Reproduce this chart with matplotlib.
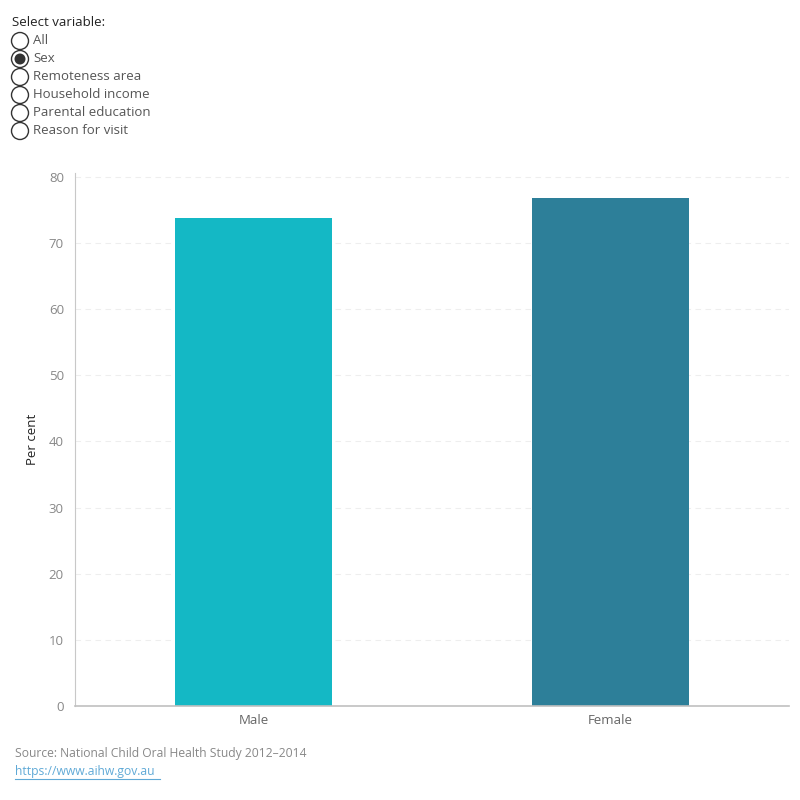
import matplotlib
matplotlib.use('Agg')
import matplotlib.pyplot as plt
from matplotlib.patches import Circle

plt.rcParams['font.family'] = ['Open Sans', 'DejaVu Sans']

# Data
categories = ['Male', 'Female']
values = [73.8, 76.8]
colors = ['#14b8c5', '#2d7f99']
options = ['All', 'Sex', 'Remoteness area', 'Household income',
           'Parental education', 'Reason for visit']
selected = 'Sex'
yticks = [0, 10, 20, 30, 40, 50, 60, 70, 80]

fig = plt.figure(figsize=(8, 8), dpi=100)
ax = fig.add_axes([75 / 800, 1 - 706 / 800, (789 - 75) / 800, (706 - 173) / 800])

ax.bar(categories, values, color=colors, width=0.44)
ax.set_xlim(-0.5, 1.5)
ax.set_ylim(0, 80.6)
ax.set_yticks(yticks)
ax.tick_params(axis='y', length=0, colors='#888888', labelsize=9.5, pad=8)
ax.tick_params(axis='x', length=0, colors='#666666', labelsize=9.5, pad=6)
ax.grid(axis='y', color='#eeeeee', linestyle=(0, (5, 4)), linewidth=0.8)
ax.set_axisbelow(True)
for s in ['top', 'right']:
    ax.spines[s].set_visible(False)
ax.spines['left'].set_color('#c8c8c8')
ax.spines['bottom'].set_color('#c0c0c0')
ax.spines['bottom'].set_linewidth(1.2)
ax.set_ylabel('Per cent', color='#222222', fontsize=9.5, labelpad=7)

# Radio button panel
fig.text(12 / 800, 1 - 23 / 800, 'Select variable:', fontsize=9.5, color='#222222',
         va='center', fontweight='medium')
for i, opt in enumerate(options):
    y = 41 + 18 * i
    fig.patches.append(Circle((20 / 800, 1 - y / 800), 8.5 / 800, transform=fig.transFigure,
                              facecolor='white', edgecolor='#333333', linewidth=1))
    if opt == selected:
        fig.patches.append(Circle((20 / 800, 1 - y / 800), 5.5 / 800, transform=fig.transFigure,
                                  facecolor='#333333', edgecolor='none'))
    fig.text(33 / 800, 1 - y / 800, opt, fontsize=9.5, color='#555555', va='center')

# Source
fig.text(15 / 800, 1 - 753 / 800, 'Source: National Child Oral Health Study 2012\u20132014',
         fontsize=8.7, color='#888888', va='center')
fig.text(15 / 800, 1 - 771 / 800, 'https://www.aihw.gov.au', fontsize=8.7,
         color='#5fa9d6', va='center', url='https://www.aihw.gov.au')
fig.add_artist(plt.Line2D([15 / 800, 160 / 800], [1 - 779 / 800, 1 - 779 / 800],
                          color='#5fa9d6', linewidth=0.8))

fig.savefig('out.png', dpi=100)
